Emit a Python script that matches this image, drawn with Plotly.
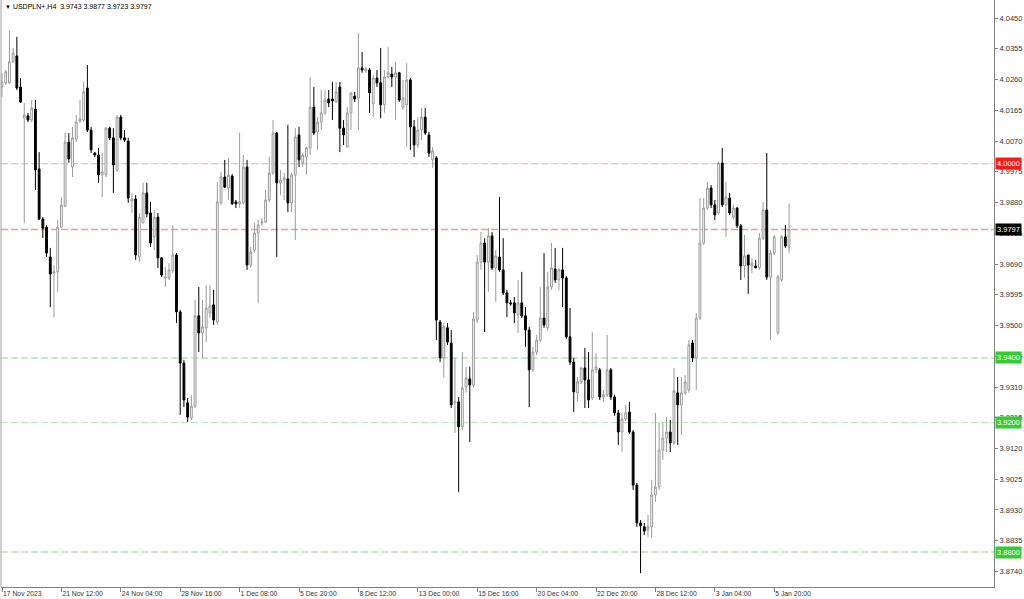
import plotly.graph_objects as go

# ---------------- data (USDPLN+, H4) ----------------
opens = [
    4.0237, 4.0250, 4.0250, 4.0315, 4.0333, 4.0237, 4.0141, 4.0148, 4.0135, 4.0169,
    3.9984, 3.9829, 3.9804, 3.9712, 3.9662, 3.9666, 3.9804, 3.9869, 4.0067, 3.9990,
    4.0076, 4.0132, 4.0135, 4.0234, 4.0104, 4.0033, 4.0027, 3.9965, 3.9965, 4.0110,
    4.0080, 3.9981, 4.0144, 4.0080, 4.0070, 3.9885, 3.9891, 3.9712, 3.9817, 3.9910,
    3.9848, 3.9774, 3.9835, 3.9709, 3.9647, 3.9647, 3.9669, 3.9718, 3.9542, 3.9384,
    3.9261, 3.9214, 3.9251, 3.9530, 3.9477, 3.9493, 3.9539, 3.9564, 3.9511, 3.9879,
    3.9959, 3.9925, 3.9962, 3.9882, 3.9876, 3.9879, 3.9990, 3.9687, 3.9733, 3.9786,
    3.9817, 3.9820, 3.9888, 3.9971, 4.0095, 3.9941, 3.9950, 3.9953, 3.9879, 3.9965,
    4.0089, 4.0002, 4.0021, 4.0049, 4.0175, 4.0098, 4.0129, 4.0157, 4.0200, 4.0200,
    4.0191, 4.0237, 4.0110, 4.0052, 4.0157, 4.0209, 4.0203, 4.0296, 4.0287, 4.0290,
    4.0185, 4.0265, 4.0250, 4.0182, 4.0268, 4.0277, 4.0268, 4.0281, 4.0175, 4.0182,
    4.0259, 4.0114, 4.0058, 4.0104, 4.0144, 4.0089, 4.0012, 4.0018, 3.9511, 3.9400,
    3.9493, 3.9446, 3.9261, 3.9264, 3.9187, 3.9310, 3.9335, 3.9316, 3.9517, 3.9696,
    3.9755, 3.9696, 3.9777, 3.9678, 3.9712, 3.9672, 3.9601, 3.9570, 3.9570, 3.9533,
    3.9570, 3.9530, 3.9486, 3.9363, 3.9418, 3.9455, 3.9523, 3.9493, 3.9619, 3.9675,
    3.9641, 3.9672, 3.9647, 3.9465, 3.9387, 3.9292, 3.9326, 3.9369, 3.9332, 3.9276,
    3.9363, 3.9363, 3.9279, 3.9286, 3.9363, 3.9279, 3.9230, 3.9171, 3.9211, 3.9233,
    3.9171, 3.9007, 3.8890, 3.8878, 3.8868, 3.8878, 3.8976, 3.9001, 3.9115, 3.9152,
    3.9171, 3.9137, 3.9292, 3.9255, 3.9292, 3.9301, 3.9446, 3.9400, 3.9523, 3.9755,
    3.9863, 3.9925, 3.9873, 3.9848, 4.0002, 3.9873, 3.9894, 3.9835, 3.9863, 3.9808,
    3.9684, 3.9718, 3.9684, 3.9684, 3.9678, 3.9770, 3.9857, 3.9650, 3.9724, 3.9477,
    3.9641, 3.9774, 3.9743,
]
highs = [
    4.0281, 4.0290, 4.0413, 4.0358, 4.0392, 4.0265, 4.0188, 4.0157, 4.0197, 4.0197,
    4.0036, 3.9835, 3.9810, 3.9740, 3.9687, 3.9826, 3.9897, 4.0095, 4.0095, 4.0114,
    4.0151, 4.0197, 4.0253, 4.0305, 4.0114, 4.0036, 4.0049, 4.0033, 4.0114, 4.0114,
    4.0110, 4.0151, 4.0151, 4.0104, 4.0080, 3.9910, 3.9903, 3.9848, 3.9941, 3.9941,
    3.9882, 3.9857, 3.9848, 3.9712, 3.9681, 3.9693, 3.9810, 3.9724, 3.9548, 3.9394,
    3.9276, 3.9285, 3.9579, 3.9619, 3.9579, 3.9625, 3.9625, 3.9610, 3.9944, 3.9975,
    4.0012, 4.0018, 3.9968, 3.9888, 4.0095, 4.0027, 4.0012, 3.9743, 3.9817, 3.9826,
    3.9832, 3.9919, 4.0021, 4.0135, 4.0098, 3.9981, 3.9971, 4.0120, 3.9971, 4.0110,
    4.0114, 4.0033, 4.0052, 4.0268, 4.0237, 4.0144, 4.0228, 4.0228, 4.0228, 4.0253,
    4.0253, 4.0253, 4.0135, 4.0175, 4.0219, 4.0222, 4.0404, 4.0345, 4.0299, 4.0296,
    4.0274, 4.0290, 4.0358, 4.0290, 4.0361, 4.0299, 4.0315, 4.0284, 4.0259, 4.0311,
    4.0265, 4.0135, 4.0144, 4.0172, 4.0172, 4.0098, 4.0052, 4.0024, 3.9517, 3.9508,
    3.9508, 3.9486, 3.9400, 3.9279, 3.9418, 3.9372, 3.9372, 3.9542, 3.9718, 3.9789,
    3.9770, 3.9801, 3.9789, 3.9733, 3.9897, 3.9770, 3.9610, 3.9579, 3.9588, 3.9641,
    3.9666, 3.9557, 3.9496, 3.9434, 3.9471, 3.9619, 3.9724, 3.9666, 3.9755, 3.9740,
    3.9678, 3.9740, 3.9653, 3.9554, 3.9400, 3.9341, 3.9372, 3.9431, 3.9418, 3.9480,
    3.9415, 3.9369, 3.9301, 3.9471, 3.9369, 3.9286, 3.9239, 3.9230, 3.9255, 3.9264,
    3.9177, 3.9014, 3.8899, 3.8890, 3.8915, 3.9023, 3.9230, 3.9199, 3.9199, 3.9217,
    3.9208, 3.9369, 3.9341, 3.9341, 3.9347, 3.9455, 3.9455, 3.9539, 3.9894, 3.9894,
    3.9944, 3.9934, 3.9888, 4.0006, 4.0049, 3.9944, 3.9910, 3.9873, 3.9866, 3.9814,
    3.9780, 3.9718, 3.9709, 3.9703, 3.9786, 3.9882, 4.0033, 3.9733, 3.9780, 3.9656,
    3.9780, 3.9811, 3.9877,
]
lows = [
    4.0206, 4.0244, 4.0247, 4.0311, 4.0228, 4.0188, 3.9817, 4.0129, 4.0129, 3.9919,
    3.9826, 3.9770, 3.9712, 3.9557, 3.9526, 3.9604, 3.9801, 3.9866, 4.0003, 3.9959,
    4.0067, 4.0126, 4.0129, 4.0098, 4.0033, 4.0021, 3.9941, 3.9897, 3.9959, 4.0073,
    3.9910, 3.9975, 4.0073, 4.0067, 3.9879, 3.9848, 3.9703, 3.9696, 3.9817, 3.9835,
    3.9743, 3.9733, 3.9678, 3.9650, 3.9619, 3.9641, 3.9662, 3.9508, 3.9224, 3.9248,
    3.9202, 3.9208, 3.9245, 3.9418, 3.9400, 3.9449, 3.9523, 3.9502, 3.9502, 3.9873,
    3.9925, 3.9888, 3.9873, 3.9863, 3.9863, 3.9873, 3.9672, 3.9678, 3.9724, 3.9570,
    3.9808, 3.9817, 3.9882, 3.9965, 3.9712, 3.9903, 3.9888, 3.9851, 3.9851, 3.9764,
    3.9990, 3.9990, 3.9965, 4.0027, 4.0089, 4.0043, 4.0104, 4.0151, 4.0175, 4.0135,
    4.0188, 4.0036, 4.0058, 4.0049, 4.0104, 4.0191, 4.0104, 4.0281, 4.0281, 4.0157,
    4.0144, 4.0237, 4.0141, 4.0157, 4.0265, 4.0237, 4.0135, 4.0191, 4.0166, 4.0052,
    4.0043, 4.0021, 4.0049, 4.0073, 4.0089, 4.0021, 3.9987, 3.9455, 3.9387, 3.9338,
    3.9440, 3.9245, 3.9168, 3.8986, 3.9177, 3.9292, 3.9140, 3.9310, 3.9508, 3.9672,
    3.9480, 3.9604, 3.9672, 3.9573, 3.9666, 3.9594, 3.9526, 3.9561, 3.9508, 3.9477,
    3.9523, 3.9434, 3.9248, 3.9356, 3.9409, 3.9449, 3.9493, 3.9486, 3.9610, 3.9632,
    3.9610, 3.9557, 3.9459, 3.9378, 3.9233, 3.9264, 3.9319, 3.9245, 3.9245, 3.9270,
    3.9353, 3.9270, 3.9264, 3.9279, 3.9270, 3.9221, 3.9131, 3.9109, 3.9205, 3.9165,
    3.8992, 3.8878, 3.8735, 3.8853, 3.8847, 3.8844, 3.8955, 3.8992, 3.9085, 3.9109,
    3.9109, 3.9131, 3.9131, 3.9162, 3.9286, 3.9292, 3.9387, 3.9301, 3.9517, 3.9749,
    3.9857, 3.9863, 3.9826, 3.9842, 3.9866, 3.9774, 3.9842, 3.9829, 3.9801, 3.9641,
    3.9647, 3.9598, 3.9662, 3.9678, 3.9672, 3.9764, 3.9641, 3.9455, 3.9718, 3.9471,
    3.9635, 3.9740, 3.9723,
]
closes = [
    4.0253, 4.0284, 4.0315, 4.0342, 4.0234, 4.0191, 4.0151, 4.0135, 4.0172, 3.9981,
    3.9829, 3.9801, 3.9724, 3.9659, 3.9666, 3.9804, 3.9872, 4.0067, 4.0015, 4.0080,
    4.0129, 4.0138, 4.0222, 4.0104, 4.0043, 4.0027, 3.9965, 3.9975, 4.0110, 4.0080,
    3.9996, 4.0144, 4.0080, 4.0073, 3.9894, 3.9891, 3.9718, 3.9835, 3.9910, 3.9845,
    3.9755, 3.9835, 3.9709, 3.9656, 3.9650, 3.9672, 3.9718, 3.9542, 3.9384, 3.9270,
    3.9217, 3.9251, 3.9530, 3.9477, 3.9496, 3.9554, 3.9561, 3.9517, 3.9882, 3.9959,
    3.9928, 3.9965, 3.9876, 3.9876, 3.9882, 3.9990, 3.9687, 3.9727, 3.9786, 3.9811,
    3.9820, 3.9888, 3.9971, 4.0095, 3.9941, 3.9950, 3.9956, 3.9879, 3.9965, 4.0083,
    4.0012, 4.0027, 4.0049, 4.0175, 4.0095, 4.0129, 4.0157, 4.0197, 4.0188, 4.0194,
    4.0222, 4.0110, 4.0089, 4.0157, 4.0219, 4.0200, 4.0296, 4.0290, 4.0293, 4.0219,
    4.0265, 4.0250, 4.0182, 4.0268, 4.0281, 4.0268, 4.0281, 4.0197, 4.0203, 4.0259,
    4.0114, 4.0058, 4.0104, 4.0144, 4.0095, 4.0033, 4.0040, 3.9517, 3.9400, 3.9496,
    3.9449, 3.9255, 3.9264, 3.9187, 3.9307, 3.9338, 3.9316, 3.9520, 3.9696, 3.9755,
    3.9696, 3.9777, 3.9678, 3.9715, 3.9672, 3.9601, 3.9570, 3.9567, 3.9539, 3.9570,
    3.9530, 3.9486, 3.9363, 3.9418, 3.9455, 3.9523, 3.9502, 3.9619, 3.9678, 3.9641,
    3.9672, 3.9647, 3.9465, 3.9387, 3.9295, 3.9326, 3.9369, 3.9332, 3.9270, 3.9363,
    3.9372, 3.9279, 3.9286, 3.9363, 3.9279, 3.9230, 3.9171, 3.9211, 3.9230, 3.9171,
    3.9007, 3.8890, 3.8881, 3.8865, 3.8878, 3.8976, 3.9001, 3.9115, 3.9152, 3.9171,
    3.9137, 3.9298, 3.9255, 3.9292, 3.9326, 3.9440, 3.9400, 3.9523, 3.9755, 3.9863,
    3.9925, 3.9873, 3.9842, 4.0002, 3.9873, 3.9897, 3.9848, 3.9863, 3.9808, 3.9684,
    3.9715, 3.9687, 3.9693, 3.9678, 3.9770, 3.9857, 3.9650, 3.9724, 3.9774, 3.9650,
    3.9774, 3.9746, 3.9797,
]

time_tick_bars = [0, 16, 32, 48, 64, 80, 96, 112, 128, 144, 160, 176, 192, 208]
time_tick_labels = ["17 Nov 2023", "21 Nov 12:00", "24 Nov 04:00", "28 Nov 16:00",
                    "1 Dec 08:00", "5 Dec 20:00", "8 Dec 12:00", "13 Dec 00:00",
                    "15 Dec 16:00", "20 Dec 04:00", "22 Dec 20:00", "28 Dec 12:00",
                    "3 Jan 04:00", "5 Jan 20:00"]

price_ticks = [4.0450, 4.0355, 4.0260, 4.0165, 4.0070, 3.9975, 3.9880, 3.9785, 3.9690,
               3.9595, 3.9500, 3.9405, 3.9310, 3.9215, 3.9120, 3.9025, 3.8930, 3.8835, 3.8740]

level_prices = [4.0000, 3.9797, 3.9400, 3.9200, 3.8800]
level_line_colors = ["#eeaaaa", "#f29a9a", "#b2e8b2", "#b8e4b8", "#b2e8b2"]
level_line_widths = [1, 1.5, 1.5, 1, 1.5]
level_label_bg = ["#ff1a1a", "#000000", "#33cc33", "#33cc33", "#33cc33"]

symbol_title = "USDPLN+,H4"
title_ohlc = "3.9743 3.9877 3.9723 3.9797"

FONT = "Liberation Sans, Arial, sans-serif"

fig = go.Figure()
fig.add_trace(go.Candlestick(
    x=list(range(len(opens))), open=opens, high=highs, low=lows, close=closes,
    increasing=dict(line=dict(color="#9a9a9a", width=1), fillcolor="#ffffff"),
    decreasing=dict(line=dict(color="#000000", width=1), fillcolor="#000000"),
    whiskerwidth=0, hoverinfo="skip", showlegend=False,
))

shapes = []
for p, col, w in zip(level_prices, level_line_colors, level_line_widths):
    shapes.append(dict(type="line", xref="paper", x0=0, x1=1, yref="y", y0=p, y1=p,
                       line=dict(color=col, width=w, dash="7px,3px"), layer="below"))
# left border of chart window
shapes.append(dict(type="line", xref="paper", x0=0, x1=0, yref="paper", y0=0, y1=1,
                   line=dict(color="#a0a0a0", width=1)))

annotations = []
for p, bg in zip(level_prices, level_label_bg):
    annotations.append(dict(xref="paper", x=1, yref="y", y=p, text=f"{p:.4f}",
                            showarrow=False, xanchor="left", yanchor="middle", xshift=1,
                            font=dict(family=FONT, size=7.5, color="#ffffff"),
                            bgcolor=bg, borderpad=1))
annotations.append(dict(xref="paper", yref="paper", x=0, y=1, xanchor="left", yanchor="top",
                        xshift=2, yshift=-1, showarrow=False,
                        text="<span style='font-size:6px'>▼</span>\u00a0" + symbol_title +
                             "\u00a0\u00a0" + title_ohlc,
                        font=dict(family=FONT, size=7, color="#000000")))

fig.update_layout(
    width=1024, height=599,
    margin=dict(l=1, r=30, t=0, b=12, pad=0),
    paper_bgcolor="#ffffff", plot_bgcolor="#ffffff",
    showlegend=False,
    shapes=shapes, annotations=annotations,
    xaxis=dict(range=[-0.27, 267.2], rangeslider=dict(visible=False), showgrid=False,
               zeroline=False, tickmode="array", tickvals=time_tick_bars,
               ticktext=time_tick_labels, ticks="outside", ticklen=4, tickcolor="#808080",
               ticklabelposition="outside right",
               tickfont=dict(family=FONT, size=6.8, color="#333333"),
               showline=True, linecolor="#808080", linewidth=1, automargin=False,
               fixedrange=True),
    yaxis=dict(side="right", range=[3.8692, 4.0506], showgrid=False, zeroline=False,
               tickmode="array", tickvals=price_ticks,
               ticktext=[f"{v:.4f}" for v in price_ticks],
               ticks="outside", ticklen=3, tickcolor="#808080",
               tickfont=dict(family=FONT, size=7.5, color="#333333"),
               showline=True, linecolor="#808080", linewidth=1, automargin=False,
               fixedrange=True),
)

fig.write_html("out.html", config={"displayModeBar": False, "staticPlot": True},
               post_script="document.body.style.margin='0px';")
